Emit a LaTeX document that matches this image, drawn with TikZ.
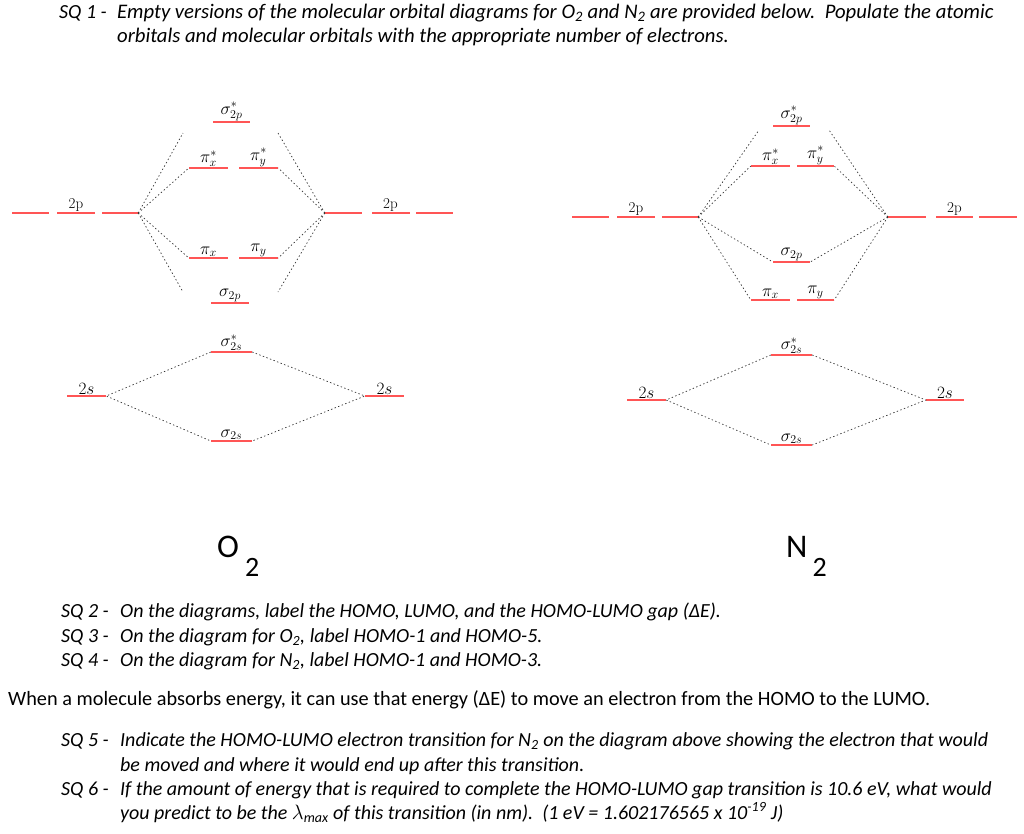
\documentclass[tikz,border=0pt]{standalone}
\usepackage{fontspec}
\newfontfamily\calibri{Carlito}
\DeclareMathSizes{15}{17}{13}{10}
\definecolor{lvlred}{RGB}{255,85,85}
\begin{document}
\begin{tikzpicture}[x=1pt, y=-1pt,
    level/.style={fill=lvlred, inner sep=0pt, minimum height=1.6pt, minimum width=#1},
    level/.default=38pt,
    orb/.style={font=\fontsize{15}{17}\selectfont, inner sep=1pt, label distance=-1pt},
    corr/.style={line width=0.7pt, black!80, dash pattern=on 1.4pt off 2.4pt},
    txt/.style={font=\calibri\itshape\fontsize{20}{24}\selectfont, inner sep=0pt, anchor=base west},
    big/.style={font=\calibri\fontsize{33}{36}\selectfont, inner sep=0pt, anchor=base west}]
\useasboundingbox (0,0) rectangle (1024,833);

% question 1
\node[txt] (sq1) at (59,18) {SQ 1 -};
\node[txt, font=\calibri\itshape\fontsize{20.7}{24}\selectfont] (sq1a) at (117,18) {Empty versions of the molecular orbital diagrams for O\textsubscript{2} and N\textsubscript{2} are provided below.\ \ Populate the atomic};
\node[txt, font=\calibri\itshape\fontsize{20.7}{24}\selectfont] (sq1b) at (117,42) {orbitals and molecular orbitals with the appropriate number of electrons.};

% O2 (left)
\node[level=37pt] (o2pa) at (30.5,213) {};
\node[level, label={[orb]above:2p}] (o2pb) at (76,213) {};
\node[level=36pt] (o2pc) at (120,213) {};
\node[level=37pt] (o2pd) at (343.5,213) {};
\node[level, label={[orb]above:2p}] (o2pe) at (390.5,213) {};
\node[level=37pt] (o2pf) at (434.5,213) {};
\node[level=37pt, label={[orb]above:$\sigma_{2p}^{*}$}] (o2sgs) at (231.5,122) {};
\node[level=39pt, label={[orb]above:$\pi_x^{*}$}] (o2pxs) at (208.5,168) {};
\node[level=39pt, label={[orb]above:$\pi_y^{*}$}] (o2pys) at (258.5,168) {};
\node[level=39pt, label={[orb]above:$\pi_x$}] (o2px) at (208.5,258) {};
\node[level=39pt, label={[orb]above:$\pi_y$}] (o2py) at (258.5,258) {};
\node[level, label={[orb]above:$\sigma_{2p}$}] (o2sg) at (230,303) {};
\coordinate (o2tl) at (183,133);
\coordinate (o2tr) at (278,133);
\coordinate (o2bl) at (183,292);
\coordinate (o2br) at (278,292);
\foreach \t in {o2tl, o2pxs.west, o2px.west, o2bl}
    \draw[corr] (o2pc.east) -- (\t);
\foreach \t in {o2tr, o2pys.east, o2py.east, o2br}
    \draw[corr] (o2pd.west) -- (\t);

\node[level=39pt, label={[orb]above:$2s$}] (o2sl) at (86.5,396) {};
\node[level=39pt, label={[orb]above:$2s$}] (o2sr) at (384.5,396) {};
\node[level=41pt, label={[orb]above:$\sigma_{2s}^{*}$}] (o2ss) at (231.5,352) {};
\node[level=41pt, label={[orb]above:$\sigma_{2s}$}] (o2s) at (231.5,441) {};
\draw[corr] (o2ss.west) -- (o2sl.east) -- (o2s.west);
\draw[corr] (o2ss.east) -- (o2sr.west) -- (o2s.east);
\node[big] (o2name) at (217,557) {O\hspace{6pt}\raisebox{-19pt}{\fontsize{28}{30}\selectfont 2}};

% N2 (right)
\node[level=37pt] (n2pa) at (590.5,217) {};
\node[level, label={[orb]above:2p}] (n2pb) at (636,217) {};
\node[level=36pt] (n2pc) at (680,217) {};
\node[level] (n2pd) at (907,217) {};
\node[level=37pt, label={[orb]above:2p}] (n2pe) at (954.5,217) {};
\node[level] (n2pf) at (998,217) {};
\node[level=37pt, label={[orb]above:$\sigma_{2p}^{*}$}] (n2sgs) at (791.5,126) {};
\node[level=39pt, label={[orb]above:$\pi_x^{*}$}] (n2pxs) at (770.5,166) {};
\node[level=37pt, label={[orb]above:$\pi_y^{*}$}] (n2pys) at (815.5,166) {};
\node[level=37pt, label={[orb]above:$\sigma_{2p}$}] (n2sg) at (791.5,262) {};
\node[level=39pt, label={[orb]above:$\pi_x$}] (n2px) at (770.5,300) {};
\node[level=37pt, label={[orb]above:$\pi_y$}] (n2py) at (815.5,300) {};
\coordinate (n2tl) at (759,130);
\coordinate (n2tr) at (829,130);
\foreach \t in {n2tl, n2pxs.west, n2sg.west, n2px.west}
    \draw[corr] (n2pc.east) -- (\t);
\foreach \t in {n2tr, n2pys.east, n2sg.east, n2py.east}
    \draw[corr] (n2pd.west) -- (\t);

\node[level=39pt, label={[orb]above:$2s$}] (n2sl) at (646.5,400) {};
\node[level=38pt, label={[orb]above:$2s$}] (n2sr) at (945,400) {};
\node[level=41pt, label={[orb]above:$\sigma_{2s}^{*}$}] (n2ss) at (791.5,355) {};
\node[level=41pt, label={[orb]above:$\sigma_{2s}$}] (n2s) at (791.5,445) {};
\draw[corr] (n2ss.west) -- (n2sl.east) -- (n2s.west);
\draw[corr] (n2ss.east) -- (n2sr.west) -- (n2s.east);
\node[big] (n2name) at (786,557) {N\hspace{5pt}\raisebox{-19pt}{\fontsize{28}{30}\selectfont 2}};

% questions 2-4
\node[txt] (sq2) at (61,617) {SQ 2 -};
\node[txt] (sq2a) at (120,617) {On the diagrams, label the HOMO, LUMO, and the HOMO-LUMO gap (ΔE).};
\node[txt] (sq3) at (61,642) {SQ 3 -};
\node[txt] (sq3a) at (120,642) {On the diagram for O\textsubscript{2}, label HOMO-1 and HOMO-5.};
\node[txt] (sq4) at (61,666) {SQ 4 -};
\node[txt] (sq4a) at (120,666) {On the diagram for N\textsubscript{2}, label HOMO-1 and HOMO-3.};
\node[txt, font=\calibri\fontsize{20.3}{24}\selectfont] (intro) at (8,705) {When a molecule absorbs energy, it can use that energy (ΔE) to move an electron from the HOMO to the LUMO.};

% questions 5-6
\node[txt] (sq5) at (61,746) {SQ 5 -};
\node[txt] (sq5a) at (120,746) {Indicate the HOMO-LUMO electron transition for N\textsubscript{2} on the diagram above showing the electron that would};
\node[txt] (sq5b) at (120,771) {be moved and where it would end up after this transition.};
\node[txt] (sq6) at (61,795) {SQ 6 -};
\node[txt] (sq6a) at (120,795) {If the amount of energy that is required to complete the HOMO-LUMO gap transition is 10.6 eV, what would};
\node[txt] (sq6b) at (120,819) {you predict to be the $\lambda$\textsubscript{max} of this transition (in nm).\ \ (1 eV = 1.602176565 x 10\textsuperscript{-19} J)};
\end{tikzpicture}
\end{document}
